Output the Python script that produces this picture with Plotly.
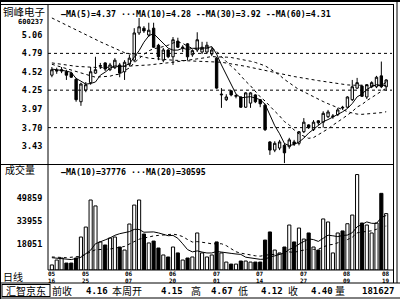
import plotly.graph_objects as go
import pandas as pd

W, H = 400, 299

# ---------------- data ----------------
DATES = [d.strftime("%m-%d") for d in pd.bdate_range("2005-05-16", "2005-08-19")]

OPEN = [4.47, 4.53, 4.53, 4.52, 4.50, 4.41, 4.08, 4.25, 4.36, 4.50,
        4.60, 4.65, 4.55, 4.58, 4.62, 4.52, 4.63, 4.69, 5.09, 5.16,
        5.06, 5.16, 4.91, 4.69, 4.84, 4.74, 4.97, 4.87, 4.93, 4.77,
        4.84, 4.81, 4.81, 4.78, 4.72, 4.18, 4.11, 4.24, 4.16, 4.15,
        4.00, 4.06, 4.18, 4.11, 4.03, 3.49, 3.37, 3.40, 3.44, 3.42,
        3.49, 3.47, 3.64, 3.74, 3.67, 3.80, 3.78, 3.86, 3.86, 3.89,
        4.00, 4.00, 4.11, 4.28, 4.31, 4.15, 4.30, 4.30, 4.46, 4.30]
HIGH = [4.59, 4.58, 4.59, 4.55, 4.52, 4.43, 4.36, 4.37, 4.59, 4.74,
        4.65, 4.66, 4.65, 4.72, 4.65, 4.69, 4.77, 5.16, 5.31, 5.19,
        5.24, 5.24, 4.93, 4.87, 4.85, 5.03, 5.02, 4.91, 4.94, 4.85,
        5.10, 4.96, 4.96, 4.88, 4.74, 4.28, 4.19, 4.25, 4.19, 4.16,
        4.22, 4.22, 4.19, 4.12, 4.05, 3.50, 3.50, 3.52, 3.47, 3.55,
        3.52, 3.65, 3.84, 3.75, 3.81, 3.81, 3.94, 3.96, 3.90, 3.99,
        4.02, 4.16, 4.40, 4.43, 4.33, 4.34, 4.38, 4.46, 4.67, 4.41]
LOW = [4.44, 4.49, 4.50, 4.40, 4.43, 4.08, 4.02, 4.22, 4.33, 4.49,
       4.56, 4.53, 4.53, 4.56, 4.44, 4.40, 4.60, 4.66, 5.06, 5.09,
       5.03, 4.87, 4.69, 4.66, 4.72, 4.62, 4.87, 4.81, 4.69, 4.74,
       4.81, 4.78, 4.78, 4.75, 4.27, 3.99, 4.09, 4.16, 4.13, 3.99,
       3.99, 3.99, 4.06, 4.00, 3.65, 3.30, 3.34, 3.37, 3.18, 3.39,
       3.43, 3.44, 3.62, 3.68, 3.65, 3.74, 3.70, 3.84, 3.83, 3.87,
       3.96, 3.99, 4.09, 4.27, 4.15, 4.12, 4.28, 4.28, 4.28, 4.24]
CLOSE = [4.55, 4.54, 4.55, 4.47, 4.44, 4.11, 4.34, 4.33, 4.52, 4.55,
         4.61, 4.56, 4.62, 4.69, 4.50, 4.66, 4.72, 5.09, 5.18, 5.12,
         5.13, 4.88, 4.74, 4.84, 4.74, 4.99, 4.88, 4.88, 4.74, 4.83,
         4.99, 4.88, 4.91, 4.84, 4.28, 4.19, 4.15, 4.18, 4.17, 4.00,
         4.21, 4.21, 4.08, 4.05, 3.67, 3.37, 3.47, 3.49, 3.33, 3.52,
         3.46, 3.64, 3.78, 3.70, 3.78, 3.77, 3.91, 3.93, 3.87, 3.96,
         3.99, 4.15, 4.30, 4.36, 4.16, 4.33, 4.36, 4.44, 4.30, 4.40]
VOLUME = [3500, 6900, 8300, 4800, 4800, 8300, 22800, 29700, 48400, 44300,
          19400, 17300, 22100, 22800, 15900, 13800, 31800, 44900, 48400, 24900,
          18700, 20000, 15200, 10400, 9000, 15900, 11800, 6900, 8300, 9000,
          25600, 11800, 9000, 10400, 19400, 11800, 5500, 4100, 4100, 6200,
          6200, 5500, 5500, 5500, 20700, 26300, 13800, 11800, 15900, 31100,
          19400, 29000, 21400, 25600, 15900, 13800, 35300, 33200, 11800, 25600,
          27000, 32000, 38000, 66000, 32500, 31100, 25600, 32500, 53000, 39000]

# moving-average values before a full window exists
MA5_HEAD = [4.56, 4.55, 4.55, 4.53]
MA10_HEAD = [4.63, 4.61, 4.59, 4.57, 4.55, 4.52, 4.50, 4.48, 4.46]
MA30_HEAD_IDX = [0, 5, 10, 15, 20, 25]
MA30_HEAD = [4.65, 4.60, 4.58, 4.60, 4.62, 4.66]
MA60_HEAD_IDX = [0, 5, 10, 15, 20, 25, 30, 35, 40, 45, 50, 55]
MA60_HEAD = [5.31, 5.13, 4.96, 4.80, 4.72, 4.69, 4.68, 4.66, 4.60, 4.52, 4.45, 4.39]
VMA10_HEAD_IDX = [0, 2, 4, 6, 8]
VMA10_HEAD = [8500, 7800, 7200, 8800, 13700]
VMA20_HEAD_IDX = [0, 3, 6, 9, 12, 15, 18]
VMA20_HEAD = [9000, 8500, 9500, 14000, 14500, 16300, 21300]

PRICE_TICKS = [5.06, 4.79, 4.52, 4.25, 3.97, 3.70, 3.43]
PRICE_GRID = [4.79, 4.25, 3.70]
VOL_TICKS = [49859, 33955, 18051]
TICK_DATES = ["05-16", "05-25", "06-07", "06-20", "07-01", "07-14", "07-27", "08-09", "08-19"]

PRICE_LEGEND = "—MA(5)=4.37 ···MA(10)=4.28 --MA(30)=3.92 --MA(60)=4.31"
VOL_LEGEND = "—MA(10)=37776 ···MA(20)=30595"
STOCK_NAME = "铜峰电子"
STOCK_CODE = "600237"
BOTTOM_ITEMS = [("前收", 62), ("4.16", 97), ("本周开", 127), ("4.15", 172), ("高", 196),
                ("4.67", 222), ("低", 243), ("4.12", 272), ("收", 293), ("4.40", 322),
                ("量", 340), ("181627", 378)]

# ---------------- layout geometry (pixels) ----------------
PL, PR = 48, 392
P_TOP, P_BOT = 4, 164
V_TOP, V_BOT = 165, 270
P_RANGE = [3.166, 5.515]
V_RANGE = [0, 72600]


def px(x):
    return x / W


def py(y):
    return 1 - y / H


MONO = "DejaVu Sans Mono"
CJK = "Noto Sans CJK SC"

fig = go.Figure()

fig.add_trace(go.Candlestick(
    x=DATES, open=OPEN, high=HIGH, low=LOW, close=CLOSE,
    increasing=dict(line=dict(color="black", width=1), fillcolor="white"),
    decreasing=dict(line=dict(color="black", width=1), fillcolor="black"),
    whiskerwidth=0, showlegend=False, hoverinfo="skip", xaxis="x", yaxis="y"))

close = pd.Series(CLOSE)


def ma_line(n, head_idx, head_vals, series):
    roll = series.rolling(n).mean()
    xs = [DATES[i] for i in head_idx] + DATES[n - 1:]
    ys = list(head_vals) + list(roll.iloc[n - 1:])
    return xs, ys


xs, ys = ma_line(5, list(range(4)), MA5_HEAD, close)
fig.add_trace(go.Scatter(x=xs, y=ys, mode="lines", line=dict(color="black", width=1),
                         xaxis="x", yaxis="y", hoverinfo="skip"))
xs, ys = ma_line(10, list(range(9)), MA10_HEAD, close)
fig.add_trace(go.Scatter(x=xs, y=ys, mode="lines", line=dict(color="black", width=1, dash="dot"),
                         xaxis="x", yaxis="y", hoverinfo="skip"))
xs, ys = ma_line(30, MA30_HEAD_IDX, MA30_HEAD, close)
fig.add_trace(go.Scatter(x=xs, y=ys, mode="lines", line=dict(color="black", width=1, dash="3px,3px"),
                         xaxis="x", yaxis="y", hoverinfo="skip"))
xs, ys = ma_line(60, MA60_HEAD_IDX, MA60_HEAD, close)
fig.add_trace(go.Scatter(x=xs, y=ys, mode="lines", line=dict(color="black", width=1, dash="3px,3px"),
                         xaxis="x", yaxis="y", hoverinfo="skip"))

bar_colors = ["white" if c >= o else "black" for o, c in zip(OPEN, CLOSE)]
fig.add_trace(go.Bar(x=DATES, y=VOLUME, marker=dict(color=bar_colors, line=dict(color="black", width=1)),
                     xaxis="x2", yaxis="y2", hoverinfo="skip"))

vol = pd.Series(VOLUME)
xs, ys = ma_line(10, VMA10_HEAD_IDX, VMA10_HEAD, vol)
fig.add_trace(go.Scatter(x=xs, y=ys, mode="lines", line=dict(color="black", width=1),
                         xaxis="x2", yaxis="y2", hoverinfo="skip"))
xs, ys = ma_line(20, VMA20_HEAD_IDX, VMA20_HEAD, vol)
fig.add_trace(go.Scatter(x=xs, y=ys, mode="lines", line=dict(color="black", width=1, dash="dot"),
                         xaxis="x2", yaxis="y2", hoverinfo="skip"))

tickfont = dict(family=MONO, size=8.5, color="black", weight="bold")

fig.update_layout(
    width=W, height=H, margin=dict(l=0, r=0, t=0, b=0),
    paper_bgcolor="white", plot_bgcolor="white", showlegend=False,
    bargap=0.35,
    xaxis=dict(domain=[px(PL), px(PR)], type="category", categoryorder="array", categoryarray=DATES,
               range=[-0.8, 70.2], showticklabels=False, showgrid=False, zeroline=False,
               rangeslider=dict(visible=False), anchor="y", ticks=""),
    yaxis=dict(domain=[py(P_BOT), py(P_TOP)], range=P_RANGE, tickvals=PRICE_TICKS,
               ticktext=[f"{v:.2f}" for v in PRICE_TICKS], showgrid=False, zeroline=False,
               tickfont=tickfont, ticks="outside", ticklen=3, tickcolor="white", anchor="x"),
    xaxis2=dict(domain=[px(PL), px(PR)], type="category", categoryorder="array", categoryarray=DATES,
                range=[-0.8, 70.2], matches="x", anchor="y2", showticklabels=False,
                showgrid=False, zeroline=False, ticks=""),
    yaxis2=dict(domain=[py(V_BOT), py(V_TOP)], range=V_RANGE, tickvals=VOL_TICKS,
                ticktext=[str(v) for v in VOL_TICKS], showgrid=False, zeroline=False,
                tickfont=tickfont, ticks="outside", ticklen=3, tickcolor="white", anchor="x2"),
)

shapes = []


def hline(y, x0, x1, width=1, dash=None):
    d = dict(type="line", xref="paper", yref="paper", x0=px(x0), x1=px(x1), y0=py(y), y1=py(y),
             line=dict(color="black", width=width))
    if dash:
        d["line"]["dash"] = dash
    shapes.append(d)


def vline(x, y0, y1, width=1):
    shapes.append(dict(type="line", xref="paper", yref="paper", x0=px(x), x1=px(x), y0=py(y0), y1=py(y1),
                       line=dict(color="black", width=width)))


# frame
hline(1, 0, 400, 2)
hline(4.5, 0, 394)
vline(0.5, 0, 299)
vline(393.5, 4.5, 283)
vline(397, 1, 283)
vline(PL, P_TOP, V_BOT)
hline(164.5, 0, 394)
hline(V_BOT, PL, 394)
hline(283, 0, 400)
hline(298, 0, 400)
vline(2, 284, 297)
vline(50, 284, 297)
hline(284.5, 2, 50)
hline(296.5, 2, 50)

# price grid
for g in PRICE_GRID:
    shapes.append(dict(type="line", xref="paper", yref="y", x0=px(PL), x1=px(PR), y0=g, y1=g,
                       line=dict(color="black", width=1, dash="dot")))

fig.update_layout(shapes=shapes)

ann = []


def text(x, y, s, font, size, xanchor="center", bold=False):
    f = dict(family=font, size=size, color="black")
    if bold:
        f["weight"] = "bold"
    ann.append(dict(x=px(x), y=py(y), xref="paper", yref="paper", text=s, showarrow=False,
                    xanchor=xanchor, yanchor="middle", font=f))


text(24, 12, STOCK_NAME, CJK, 10.5)
text(30, 22, STOCK_CODE, MONO, 7, bold=True)
text(59, 14, PRICE_LEGEND, MONO, 8.3, xanchor="left", bold=True)
text(59, 172, VOL_LEGEND, MONO, 8.3, xanchor="left", bold=True)
text(20, 169, "成交量", CJK, 10)
text(13, 276, "日线", CJK, 10)
text(26, 290.5, "汇智京东", CJK, 10)
for s, x in BOTTOM_ITEMS:
    if s[0].isdigit():
        text(x, 290.5, s, MONO, 9, bold=True)
    else:
        text(x, 290.5, s, CJK, 10)

# date labels (month over day), placed on the category axis
datefont = dict(family=MONO, size=6, color="black", weight="bold")
for d in TICK_DATES:
    mm, dd = d.split("-")
    for s, y in ((mm, 273.2), (dd, 280.2)):
        ann.append(dict(x=d, y=py(y), xref="x2", yref="paper", text=s, showarrow=False,
                        xanchor="center", yanchor="middle", font=datefont, borderpad=0))

fig.update_layout(annotations=ann)

fig.write_html("out.html")
